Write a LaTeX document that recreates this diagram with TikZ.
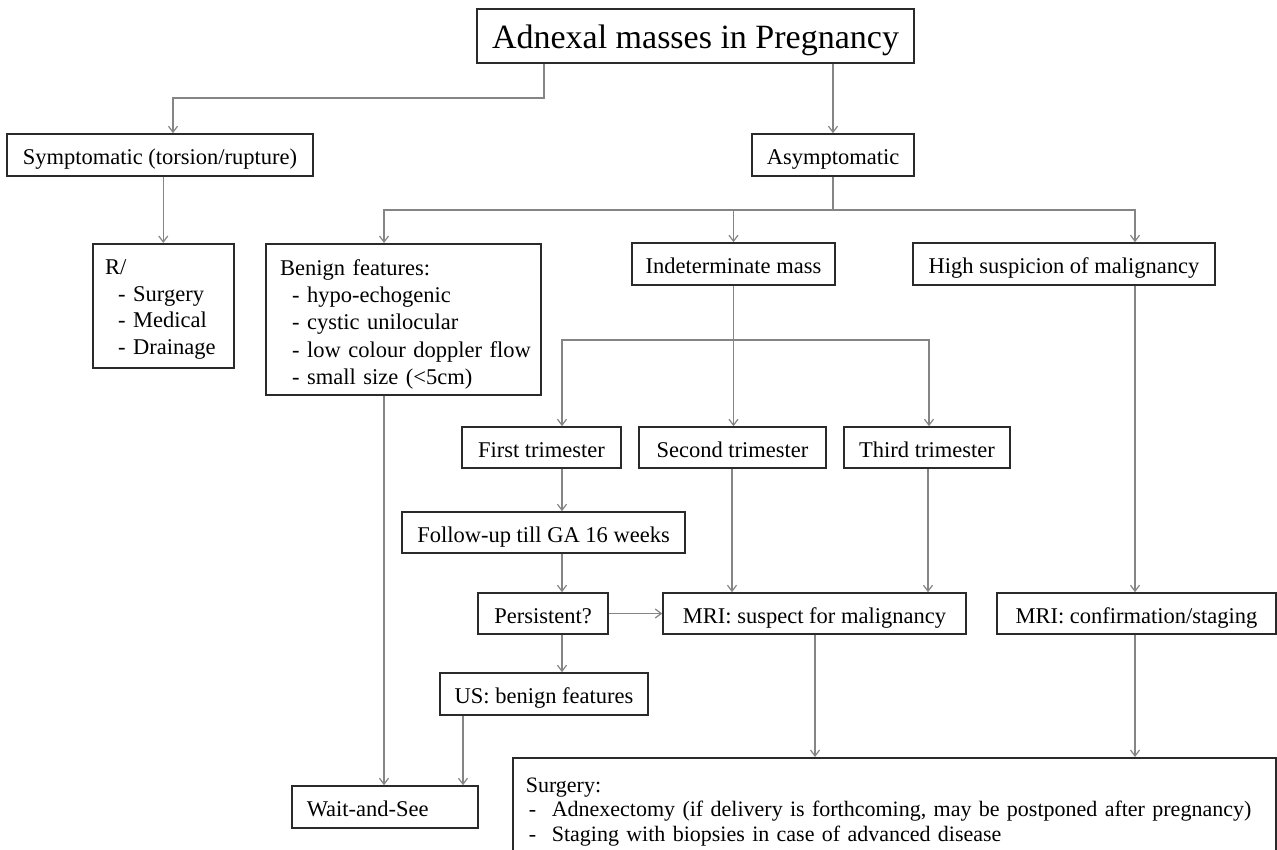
\documentclass[tikz,border=0pt]{standalone}
\usepackage{fontspec}
\setmainfont{Liberation Serif}
\usetikzlibrary{arrows.meta,calc}
\definecolor{boxcol}{HTML}{2A2A2A}
\definecolor{linecol}{HTML}{858585}
\begin{document}
\begin{tikzpicture}[x=1pt,y=-1pt,
  mbox/.style={draw=boxcol, line width=1.6pt, font=\fontsize{22.5}{27}\selectfont, inner sep=0pt, minimum height=42pt},
  box/.style={mbox, text height=21pt, text depth=2pt},
  txt/.style={inner sep=0pt, anchor=base west, align=left},
  conn/.style={draw=linecol, line width=1.2pt},
  arr/.style={conn, -{Straight Barb[length=6pt,width=9pt]}}
]
\path[use as bounding box, fill=white] (0,0) rectangle (1277,850);

\node[box, minimum width=437pt, minimum height=54pt, font=\fontsize{34}{40}\selectfont, text height=30pt, text depth=4pt] (title) at (695.5,36) {Adnexal masses in Pregnancy};
\node[box, minimum width=306pt] (symp) at (160,155) {Symptomatic (torsion/rupture)};
\node[box, minimum width=162pt] (asym) at (833,155) {Asymptomatic};

\node[mbox, anchor=north west, minimum width=141pt, minimum height=124pt] (rbox) at (92,243) {};
\node[txt, text width=120pt, font=\fontsize{22.5}{26.7}\selectfont] (rtext) at (105,274.5)
  {\mbox{R/}\\\mbox{\hspace*{13pt}- Surgery}\\\mbox{\hspace*{13pt}- Medical}\\\mbox{\hspace*{13pt}- Drainage}};
\node[mbox, anchor=north west, minimum width=275pt, minimum height=151pt] (benign) at (265,243) {};
\node[txt, text width=250pt, font=\fontsize{22.5}{27.2}\selectfont] (btext) at (280,275.5)
  {\mbox{Benign features:}\\\mbox{\hspace*{12pt}- hypo-echogenic}\\\mbox{\hspace*{12pt}- cystic unilocular}\\\mbox{\hspace*{12pt}- low colour doppler flow}\\\mbox{\hspace*{12pt}- small size (<5cm)}};
\node[box, minimum width=203pt] (indet) at (733.5,264) {Indeterminate mass};
\node[box, minimum width=302pt] (high) at (1064,264) {High suspicion of malignancy};

\node[box, minimum width=159pt, minimum height=41pt] (first) at (541.5,447.5) {First trimester};
\node[box, minimum width=187pt, minimum height=41pt] (second) at (732.5,447.5) {Second trimester};
\node[box, minimum width=166pt, minimum height=41pt] (third) at (927,447.5) {Third trimester};
\node[box, minimum width=283pt, minimum height=41pt] (follow) at (543.5,532.5) {Follow-up till GA 16 weeks};
\node[box, minimum width=130pt, minimum height=41pt] (persist) at (543,613.5) {Persistent?};
\node[box, minimum width=303pt, minimum height=41pt] (mri1) at (814.5,613.5) {MRI: suspect for malignancy};
\node[box, minimum width=279pt, minimum height=41pt] (mri2) at (1136.5,613.5) {MRI: confirmation/staging};
\node[box, minimum width=208pt] (us) at (544,694) {US: benign features};
\node[box, anchor=west, minimum width=186pt, inner xsep=15pt, text width=156pt, align=left] (wait) at (291,807) {Wait-and-See};
\node[mbox, anchor=north west, minimum width=763pt, minimum height=108pt, inner xsep=13pt, text width=737pt, align=left, font=\fontsize{22}{24.5}\selectfont] (surg) at (512,757)
  {\mbox{Surgery:}\\\mbox{\hspace*{3pt}\makebox[23pt][l]{-}Adnexectomy (if delivery is forthcoming, may be postponed after pregnancy)}\\\mbox{\hspace*{3pt}\makebox[23pt][l]{-}Staging with biopsies in case of advanced disease}};

% connectors
\draw[arr] (544,0 |- title.south) -- (544,98) -- (173,98) -- (173,0 |- symp.north);
\draw[arr] (title.south -| asym.north) -- (asym.north);
\draw[arr] (symp.south -| rbox.north) -- (rbox.north);
\coordinate (j1) at (833,210);
\draw[conn] (asym.south) -- (j1);
\draw[arr] (j1) -| (384,0 |- benign.north);
\draw[arr] (j1 -| indet.north) -- (indet.north);
\draw[arr] (j1) -| (1135,0 |- high.north);
\draw[arr] (indet.south) -- (indet.south |- second.north);
\coordinate (j2) at (733.5,340);
\draw[arr] (j2) -| (562,0 |- first.north);
\draw[arr] (j2) -| (929,0 |- third.north);
\draw[arr] (562,0 |- first.south) -- (562,0 |- follow.north);
\draw[arr] (562,0 |- follow.south) -- (562,0 |- persist.north);
\draw[arr] (persist.east) -- (mri1.west);
\draw[arr] (562,0 |- persist.south) -- (562,0 |- us.north);
\draw[arr] (732,0 |- second.south) -- (732,0 |- mri1.north);
\draw[arr] (928,0 |- third.south) -- (928,0 |- mri1.north);
\draw[arr] (1135,0 |- high.south) -- (1135,0 |- mri2.north);
\draw[arr] (384,0 |- benign.south) -- (384,0 |- wait.north);
\draw[arr] (463,0 |- us.south) -- (463,0 |- wait.north);
\draw[arr] (815,0 |- mri1.south) -- (815,0 |- surg.north);
\draw[arr] (1135,0 |- mri2.south) -- (1135,0 |- surg.north);
\end{tikzpicture}
\end{document}
